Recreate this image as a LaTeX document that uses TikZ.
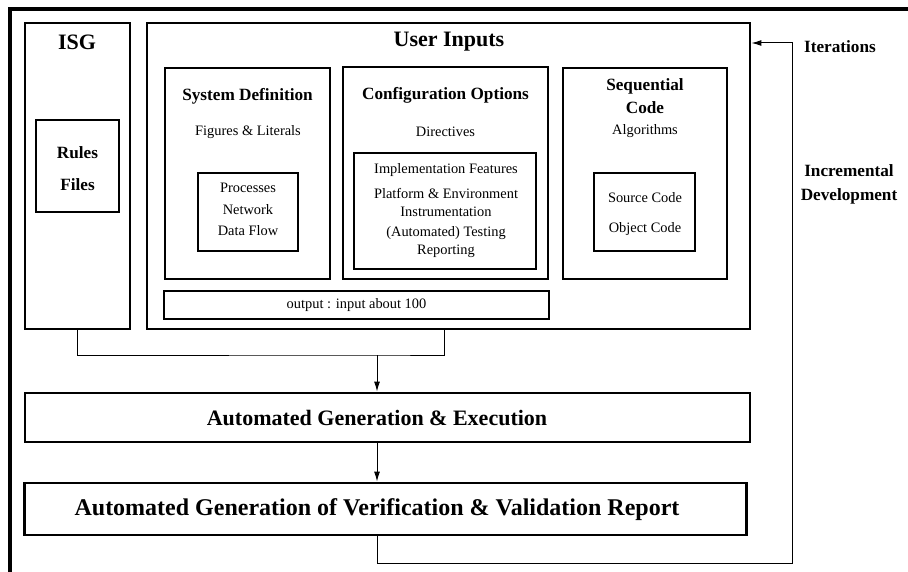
\documentclass[tikz,border=0pt]{standalone}
\usepackage{fontspec}
\setmainfont{Liberation Serif}
\usetikzlibrary{arrows.meta,calc}

\tikzset{
  bigbox/.style={draw,line width=2.9pt,inner sep=0pt},
  subbox/.style={draw,line width=1.3pt,inner sep=0pt},
  title/.style={font=\bfseries\fontsize{22}{24}\selectfont},
  head/.style={font=\bfseries\fontsize{17.2}{19}\selectfont},
  txt/.style={font=\fontsize{14.4}{16}\selectfont},
  arr/.style={-{Latex[length=10pt,width=6pt]}}
}

\begin{document}
\begin{tikzpicture}[x=1pt,y=-1pt,line width=1pt]
		\useasboundingbox (0,0) rectangle (908,572);
		\draw[line width=3.3pt] (10,572) -- (10,9) -- (908,9);
		\node[bigbox,minimum width=105,minimum height=306] (isg) at (77.5,176) {};
		\node[subbox,minimum width=83,minimum height=92] (rules) at (77.5,166) {};
		\node[bigbox,minimum width=603,minimum height=306] (user) at (448.5,176) {};
		\node[subbox,minimum width=165,minimum height=211] (sysdef) at (247.5,173.5) {};
		\node[subbox,minimum width=100,minimum height=78] (proc) at (248,212) {};
		\node[subbox,minimum width=205,minimum height=212] (config) at (445.5,173) {};
		\node[subbox,minimum width=182,minimum height=116] (feat) at (445,211) {};
		\node[subbox,minimum width=164,minimum height=211] (seq) at (645,173.5) {};
		\node[subbox,minimum width=101,minimum height=78] (src) at (644.5,212) {};
		\node[subbox,minimum width=385,minimum height=28] (out) at (356.5,305) {};
		\node[bigbox,minimum width=725,minimum height=49] (age) at (387.5,417.5) {};
		\node[bigbox,minimum width=722,minimum height=52] (vv) at (385.5,509) {};
		\node[title] (isgt) at (77,42) {ISG};
		\node[title] (usert) at (449,42) {User Inputs};
		\node[head] (rulest) at (77.5,153) {Rules};
		\node[head] (filest) at (77.5,185) {Files};
		\node[head] (sysdeft) at (247.5,96) {System Definition};
		\node[txt] (figt) at (248,132) {Figures \& Literals};
		\foreach \t/\y in {Processes/188,Network/210,Data Flow/231}
		\node[txt] (proc\y) at (248,\y) {\t};
		\node[head] (configt) at (445.5,95) {Configuration Options};
		\node[txt] (dirt) at (445.5,132) {Directives};
		\foreach \t/\y in {Implementation Features/170,Platform \& Environment/194,Instrumentation/212,(Automated) Testing/233,Reporting/251}
		\node[txt] (feat\y) at (446,\y) {\t};
		\node[head] (seqt) at (645,86) {Sequential};
		\node[head] (codet) at (645,108) {Code};
		\node[txt] (algt) at (645,131) {Algorithms};
		\node[txt] (srct) at (645,198) {Source Code};
		\node[txt] (objt) at (645,229) {Object Code};
		\node[txt] (outt) at (356.5,305) {output : input about 100};
		\node[title] (aget) at (377,418) {Automated Generation \& Execution};
		\node[title,font=\bfseries\fontsize{24}{26}\selectfont] (vvt) at (377,510) {Automated Generation of Verification \& Validation Report};
		\node[head] (itt) at (840,47) {Iterations};
		\node[head] (inct) at (849,171) {Incremental};
		\node[head] (devt) at (849,196) {Development};
		\coordinate (join) at (377,355);
		\coordinate (fb) at (792,563);
		\draw (isg.south) |- (join) -| ([xshift=-4pt]user.south);
		\draw[arr] (join) -- (join |- age.north);
		\draw[arr] (join |- age.south) -- (join |- vv.north);
		\draw[arr] (join |- vv.south) |- (fb) -- (fb |- 0,43) -- (user.east |- 0,43);
\end{tikzpicture}
\end{document}
